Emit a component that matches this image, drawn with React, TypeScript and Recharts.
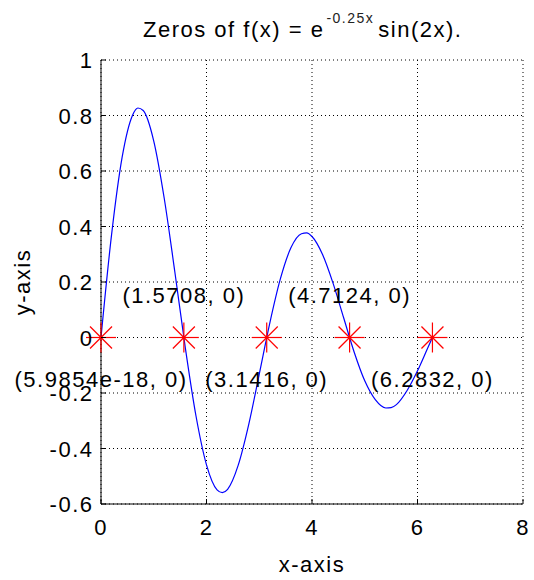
import {
  ComposedChart,
  Line,
  Scatter,
  XAxis,
  YAxis,
  CartesianGrid,
} from "recharts";

// f(x) = e^(-0.25x) sin(2x)
const curveX = [
  0, 0.2, 0.4, 0.6, 0.7, 0.8, 1.0, 1.2, 1.4, 1.6, 1.8, 2.0, 2.2, 2.3, 2.4, 2.6,
  2.8, 3.0, 3.2, 3.4, 3.6, 3.8, 3.9, 4.0, 4.2, 4.4, 4.6, 4.8, 5.0, 5.2, 5.4, 5.5,
  5.6, 5.8, 6.0, 6.2, 6.2832,
];
const curveY = [
  0, 0.37, 0.649, 0.802, 0.827, 0.818, 0.708, 0.5, 0.236, -0.039, -0.282,
  -0.459, -0.549, -0.559, -0.547, -0.461, -0.314, -0.132, 0.052, 0.211, 0.323,
  0.374, 0.377, 0.364, 0.299, 0.195, 0.071, -0.053, -0.156, -0.224, -0.254,
  -0.253, -0.242, -0.192, -0.12, -0.035, 0,
];

const zeroX = [0, 1.5708, 3.1416, 4.7124, 6.2832];
const zeroLabels = [
  "(5.9854e-18, 0)",
  "(1.5708, 0)",
  "(3.1416, 0)",
  "(4.7124, 0)",
  "(6.2832, 0)",
];

const xTicks = [0, 2, 4, 6, 8];
const yTicks = [-0.6, -0.4, -0.2, 0, 0.2, 0.4, 0.6, 0.8, 1];

const FONT = "'Liberation Sans', Arial, Helvetica, sans-serif";
const textStyle = { fontFamily: FONT, fontSize: 22, letterSpacing: 1.5 };

const curve = curveX.map((x, i) => ({ x, y: curveY[i] }));
const zeros = zeroX.map((x, i) => ({
  x,
  y: 0,
  label: zeroLabels[i],
  above: i % 2 === 1,
}));

function BottomTick({ x, y, payload }: any) {
  return (
    <g>
      <line x1={x} x2={x} y1={y} y2={y - 5} stroke="#000" />
      <text x={x} y={y + 31} textAnchor="middle" fill="#000" style={textStyle}>
        {payload.value}
      </text>
    </g>
  );
}

function TopTick({ x, y }: any) {
  return <line x1={x} x2={x} y1={y} y2={y + 5} stroke="#000" />;
}

function LeftTick({ x, y, payload }: any) {
  return (
    <g>
      <line x1={x} x2={x + 5} y1={y} y2={y} stroke="#000" />
      <text x={x - 7.5} y={y + 8} textAnchor="end" fill="#000" style={textStyle}>
        {String(payload.value)}
      </text>
    </g>
  );
}

function RightTick({ x, y }: any) {
  return <line x1={x} x2={x - 5} y1={y} y2={y} stroke="#000" />;
}

// red asterisk marker, like MATLAB's '*'
function Star({ cx, cy }: any) {
  const r = 15;
  const d = 11;
  const red = "#ff0000";
  return (
    <g>
      <line x1={cx - r} x2={cx + r} y1={cy} y2={cy} stroke={red} strokeWidth={1.2} />
      <line x1={cx} x2={cx} y1={cy - r} y2={cy + r} stroke={red} strokeWidth={1.2} />
      <line x1={cx - d} x2={cx + d} y1={cy - d} y2={cy + d} stroke={red} strokeWidth={1.2} />
      <line x1={cx - d} x2={cx + d} y1={cy + d} y2={cy - d} stroke={red} strokeWidth={1.2} />
      <circle cx={cx} cy={cy} r={1.5} fill={red} stroke="none" />
    </g>
  );
}

function ZeroLabel({ cx, cy, payload }: any) {
  return (
    <text
      x={cx}
      y={payload.above ? cy - 34.5 : cy + 49.5}
      textAnchor="middle"
      fill="#000"
      style={textStyle}
    >
      {payload.label}
    </text>
  );
}

export default function App() {
  return (
    <div style={{ position: "absolute", left: 0, top: 0, width: 534, height: 580, background: "#fff" }}>
      <ComposedChart
        width={534}
        height={580}
        data={curve}
        margin={{ top: 60, right: 11, bottom: 36, left: 0 }}
      >
        <CartesianGrid strokeDasharray="1 3" stroke="#000" />
        <XAxis
          dataKey="x"
          type="number"
          domain={[0, 8]}
          ticks={xTicks}
          interval={0}
          height={40}
          tickSize={0}
          tickMargin={0}
          tickLine={false}
          axisLine={{ stroke: "#000" }}
          tick={<BottomTick />}
        />
        <XAxis
          xAxisId="top"
          orientation="top"
          type="number"
          domain={[0, 8]}
          ticks={xTicks}
          interval={0}
          height={0}
          tickSize={0}
          tickMargin={0}
          tickLine={false}
          axisLine={{ stroke: "#000" }}
          tick={<TopTick />}
        />
        <YAxis
          type="number"
          domain={[-0.6, 1]}
          ticks={yTicks}
          interval={0}
          width={101}
          tickSize={0}
          tickMargin={0}
          tickLine={false}
          axisLine={{ stroke: "#000" }}
          tick={<LeftTick />}
        />
        <YAxis
          yAxisId="right"
          orientation="right"
          type="number"
          domain={[-0.6, 1]}
          ticks={yTicks}
          interval={0}
          width={0}
          tickSize={0}
          tickMargin={0}
          tickLine={false}
          axisLine={{ stroke: "#000" }}
          tick={<RightTick />}
        />
        <Line
          dataKey="y"
          type="monotone"
          stroke="#0000ff"
          strokeWidth={1.2}
          dot={false}
          activeDot={false}
          isAnimationActive={false}
        />
        <Scatter data={zeros} dataKey="y" shape={(p: any) => <Star {...p} />} isAnimationActive={false} />
        <Scatter data={zeros} dataKey="y" shape={(p: any) => <ZeroLabel {...p} />} isAnimationActive={false} />
      </ComposedChart>
      <svg
        width={534}
        height={580}
        style={{ position: "absolute", left: 0, top: 0, pointerEvents: "none" }}
      >
        <text x={143} y={37} fill="#000" style={textStyle}>
          Zeros of f(x) = e
          <tspan dx={2} dy={-14} style={{ fontSize: 14, letterSpacing: 1.5 }} fill="#222">
            -0.25x
          </tspan>
          <tspan dx={4} dy={14}>sin(2x).</tspan>
        </text>
        <text x={312} y={572} textAnchor="middle" fill="#000" style={textStyle}>
          x-axis
        </text>
        <text
          x={0}
          y={0}
          transform="translate(30 282) rotate(-90)"
          textAnchor="middle"
          fill="#000"
          style={textStyle}
        >
          y-axis
        </text>
      </svg>
    </div>
  );
}
